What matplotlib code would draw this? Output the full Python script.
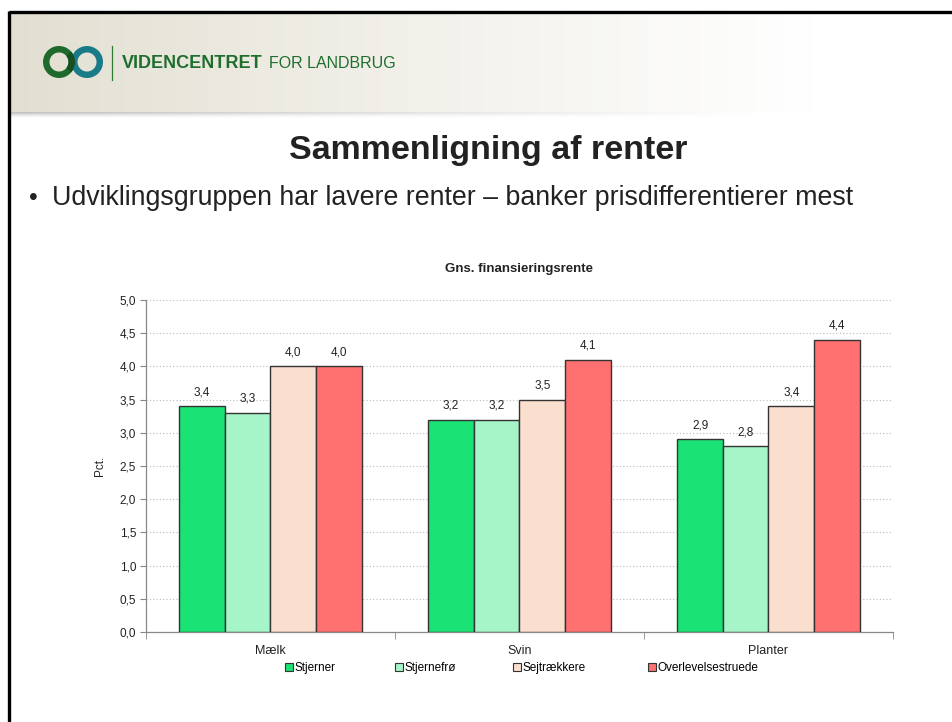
import numpy as np
import matplotlib
matplotlib.use("Agg")
import matplotlib.pyplot as plt
from matplotlib.patches import Wedge, Rectangle
from matplotlib.lines import Line2D

plt.rcParams['font.family'] = ['Liberation Sans', 'DejaVu Sans']

# ---- data ----
categories = ["Mælk", "Svin", "Planter"]
series_names = ["Stjerner", "Stjernefrø", "Sejtrækkere", "Overlevelsestruede"]
stjerner = [3.4, 3.2, 2.9]
stjernefro = [3.3, 3.2, 2.8]
sejtraekkere = [4.0, 3.5, 3.4]
overlevelse = [4.0, 4.1, 4.4]
series_values = [stjerner, stjernefro, sejtraekkere, overlevelse]
yticks = [0.0, 0.5, 1.0, 1.5, 2.0, 2.5, 3.0, 3.5, 4.0, 4.5, 5.0]
colors = ["#1BE275", "#A5F5C8", "#FADECE", "#FF7070"]

W, H = 953, 722
fig = plt.figure(figsize=(W / 100, H / 100), dpi=100)
fig.patch.set_facecolor("white")

# ---- background / slide decoration (pixel coordinates) ----
bg = fig.add_axes([0, 0, 1, 1])
bg.set_xlim(0, W)
bg.set_ylim(H, 0)
bg.axis("off")

# header gradient
n = 400
t = np.linspace(0, 1, n)
fade = np.clip(t / 0.85, 0, 1) ** 0.9
c0 = np.array([226, 223, 209]) / 255.0
c1 = np.array([255, 255, 255]) / 255.0
grad = c0[None, :] * (1 - fade[:, None]) + c1[None, :] * fade[:, None]
img = np.tile(grad[None, :, :], (2, 1, 1))
bg.imshow(img, extent=[10, W, 112, 13], aspect="auto", zorder=0, interpolation="bilinear")

# shadow below header
sh_n = 400
sh = np.ones((6, sh_n, 4))
sh[..., :3] = 0.55
alpha_x = np.clip(1 - np.linspace(0, 1, sh_n) / 0.8, 0, 1) * 0.6
alpha_y = np.array([0.9, 0.7, 0.5, 0.3, 0.15, 0.05])
sh[..., 3] = alpha_y[:, None] * alpha_x[None, :]
bg.imshow(sh, extent=[10, W, 118, 112], aspect="auto", zorder=1, interpolation="bilinear")

# slide border (top and left)
bg.add_line(Line2D([9, W], [12, 12], color="black", lw=2.4, zorder=5, solid_capstyle="butt"))
bg.add_line(Line2D([9, 9], [11, H], color="black", lw=2.4, zorder=5, solid_capstyle="butt"))

# logo rings
bg.add_patch(Wedge((59, 62), 16, 0, 360, width=6.5, facecolor="#1E6A2D", edgecolor="none", zorder=3))
bg.add_patch(Wedge((87, 62), 16, 0, 360, width=6.5, facecolor="#1A7B88", edgecolor="none", zorder=3))
bg.add_patch(Wedge((59, 62), 16, -40, 40, width=6.5, facecolor="#154F22", edgecolor="none", zorder=4))
bg.add_line(Line2D([112, 112], [46, 80], color="#2E7D32", lw=0.9, zorder=3))
bg.text(122, 63, "VIDENCENTRET", color="#1F6E2E", fontsize=13, fontweight="bold",
        va="center", ha="left", zorder=3)
bg.text(269, 63, "FOR LANDBRUG", color="#1F6E2E", fontsize=11.5,
        va="center", ha="left", zorder=3)

# slide title and bullet
bg.text(488, 151, "Sammenligning af renter", fontsize=24.5, fontweight="bold",
        ha="center", va="center", color="#222222")
bg.text(29, 198, "•", fontsize=18, ha="left", va="center", color="#222222")
bg.text(52, 198, "Udviklingsgruppen har lavere renter – banker prisdifferentierer mest",
        fontsize=19.25, ha="left", va="center", color="#222222")

# ---- chart ----
ax = fig.add_axes([146 / W, 90 / H, 747 / W, 332 / H])
ax.set_facecolor("none")
x = np.arange(len(categories))
bw = 0.183
offsets = (np.arange(4) - 1.5) * bw
for i, (vals, col, name) in enumerate(zip(series_values, colors, series_names)):
    bars = ax.bar(x + offsets[i], vals, width=bw, color=col, edgecolor="#333333",
                  linewidth=1.0, label=name, zorder=3)
    for b, v in zip(bars, vals):
        ax.text(b.get_x() + b.get_width() / 2, v + 0.12, f"{v:.1f}".replace(".", ","),
                ha="center", va="bottom", fontsize=8.5, color="#222222")

ax.set_xlim(-0.5, len(categories) - 0.5)
ax.set_ylim(0, 5)
ax.set_yticks(yticks)
ax.set_yticklabels([f"{v:.1f}".replace(".", ",") for v in yticks], fontsize=8.5, color="#222222")
ax.set_xticks(x)
ax.set_xticklabels(categories, fontsize=9, color="#222222")
ax.set_xticks(np.arange(-0.5, len(categories), 1.0), minor=True)
ax.tick_params(axis="x", which="major", length=0, pad=9)
ax.tick_params(axis="x", which="minor", length=5, color="#888888", direction="out")
ax.tick_params(axis="y", length=4, color="#888888", direction="out", pad=3)
ax.grid(axis="y", color="#BBBBBB", linestyle=(0, (1, 2)), linewidth=0.8, zorder=0)
for s in ["top", "right"]:
    ax.spines[s].set_visible(False)
for s in ["left", "bottom"]:
    ax.spines[s].set_color("#888888")
    ax.spines[s].set_linewidth(0.9)
ax.set_ylabel("Pct.", fontsize=8.5, color="#222222", labelpad=10)
ax.set_title("Gns. finansieringsrente", fontsize=9.5, fontweight="bold", color="#222222", pad=20)

# legend entries placed individually like the reference
leg_x = [285, 395, 513, 648]
for name, col, lx in zip(series_names, colors, leg_x):
    h = Rectangle((0, 0), 1, 1, facecolor=col, edgecolor="#333333", linewidth=0.8)
    fig.legend([h], [name], loc="center left", bbox_to_anchor=(lx / W, 1 - 668 / H),
               frameon=False, fontsize=8.5, handlelength=0.65, handleheight=0.65,
               handletextpad=0.15, borderpad=0, borderaxespad=0)

fig.savefig("out.png", dpi=100, facecolor="white")
